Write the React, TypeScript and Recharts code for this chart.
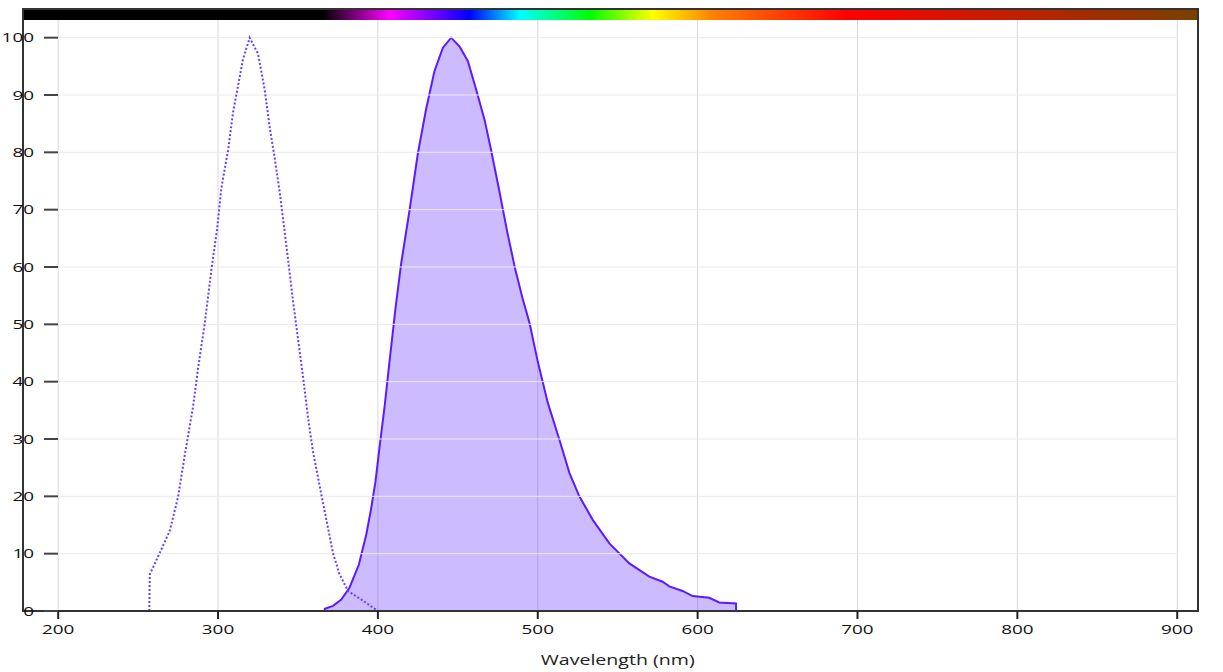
import { ComposedChart, Area, Line, XAxis, YAxis, CartesianGrid, ReferenceArea, ReferenceLine } from 'recharts';

// excitation spectrum (dotted line)
const exWavelength = [257, 257.3, 263.5, 269.8, 275, 279.2, 284.4, 287.5, 291.7, 295.8, 299.4, 302.1, 306.3, 309.4, 312.5, 315.6, 319.8, 325, 329.2, 332.3, 335.4, 338.5, 340.6, 343.8, 346.9, 350, 353.1, 356.3, 359.4, 363.5, 367.7, 371.9, 376, 381.3, 390.6, 399];
const exValue = [0, 6.4, 10.1, 14.0, 19.9, 27.2, 35.7, 42.3, 50.2, 59.4, 66.6, 73.8, 80.4, 87.0, 91.6, 96.2, 100, 97.2, 90.9, 84.4, 79.1, 73.2, 68.6, 61.3, 54.1, 47.5, 41.0, 33.7, 27.8, 21.9, 16.0, 10.1, 6.4, 3.5, 1.8, 0.2];

// emission spectrum (filled)
const emWavelength = [366.7, 366.8, 371.9, 377.1, 382.3, 388.1, 392.7, 395.8, 398.5, 401, 404.2, 407.3, 411, 414.6, 419.8, 425, 430.2, 435.4, 440.6, 445.8, 451, 456.3, 461.5, 466.7, 470.8, 476, 481, 486, 490.6, 494.8, 500, 506.3, 513.5, 519.8, 526, 534.4, 544.8, 557.3, 569.8, 578.1, 582.3, 590.6, 596.9, 607.3, 613.5, 624, 624.1];
const emValue = [0, 0.4, 0.9, 2.0, 4.1, 8.1, 13.3, 17.9, 22.6, 28.5, 35.7, 43.6, 52.8, 60.7, 69.9, 79.8, 87.6, 94.2, 98.2, 100, 98.5, 95.9, 90.9, 85.7, 80.4, 73.2, 66, 59.5, 54.4, 50.3, 43.5, 36.3, 29.9, 24.1, 20.0, 15.9, 11.8, 8.3, 6.0, 5.1, 4.3, 3.5, 2.6, 2.3, 1.5, 1.3, 0];

const xTicks = [200, 300, 400, 500, 600, 700, 800, 900];
const yTicks = [0, 10, 20, 30, 40, 50, 60, 70, 80, 90, 100];
const xDomain = [178, 913];
const yDomain = [0, 105];

// spectrum bar colours across the plot width
const spectrumStops = [
  { offset: '0%', color: '#000000' },
  { offset: '25.5%', color: '#000000' },
  { offset: '31.2%', color: '#ff00ff' },
  { offset: '38%', color: '#0000ff' },
  { offset: '42.3%', color: '#00ffff' },
  { offset: '48.3%', color: '#00ff00' },
  { offset: '53.6%', color: '#ffff00' },
  { offset: '58.7%', color: '#ff8000' },
  { offset: '70.1%', color: '#ff0000' },
  { offset: '100%', color: '#7a4100' },
];

const exData = exWavelength.map((w, i) => ({ w, v: exValue[i] }));
const emData = emWavelength.map((w, i) => ({ w, v: emValue[i] }));

const FONT = '"Open Sans", sans-serif';
const PLOT_LEFT = 23;

function YTick(props: any) {
  const { y, payload } = props;
  const label = String(payload.value);
  return (
    <g>
      <line x1={PLOT_LEFT + 21} x2={PLOT_LEFT + 35} y1={y} y2={y} stroke="#444" strokeWidth={2} />
      <text x={PLOT_LEFT + 11} y={y} dy={4.5} textAnchor="end" fontFamily={FONT} fontSize={13} fill="#111"
        textLength={label.length * 10.8} lengthAdjust="spacingAndGlyphs">{label}</text>
    </g>
  );
}

function XTick(props: any) {
  const { x, y, payload } = props;
  const label = String(payload.value);
  return (
    <text x={x} y={y + 13} textAnchor="middle" fontFamily={FONT} fontSize={13} fill="#111"
      textLength={label.length * 10.8} lengthAdjust="spacingAndGlyphs">{label}</text>
  );
}

function AxisTitle(props: any) {
  const { viewBox } = props;
  return (
    <text x={viewBox.x} y={viewBox.y + viewBox.height + 54} textAnchor="middle" fontFamily={FONT} fontSize={14} fill="#222"
      textLength={154} lengthAdjust="spacingAndGlyphs">Wavelength (nm)</text>
  );
}

export default function App() {
  return (
    <div style={{ position: 'absolute', left: 0, top: 0 }}>
      <ComposedChart width={1223} height={672} margin={{ top: 9, right: 25, bottom: 0, left: 0 }}>
        <defs>
          <linearGradient id="specGrad" x1="0" y1="0" x2="1" y2="0">
            {spectrumStops.map((s) => (
              <stop key={s.offset} offset={s.offset} stopColor={s.color} />
            ))}
          </linearGradient>
        </defs>
        <CartesianGrid horizontal={false} stroke="#d8d8d8" />
        <XAxis dataKey="w" type="number" domain={xDomain} ticks={xTicks} allowDataOverflow
          axisLine={{ stroke: '#333', strokeWidth: 2 }} tickLine={{ stroke: '#222', strokeWidth: 2 }} tickSize={8}
          tick={<XTick />} height={61} />
        <YAxis type="number" domain={yDomain} ticks={yTicks} allowDataOverflow width={23}
          axisLine={false} tickLine={false} tick={<YTick />} />
        {yTicks.filter((t) => t > 0).map((t) => (
          <ReferenceLine key={t} segment={[{ x: 200, y: t }, { x: 900, y: t }]} stroke="#eaeaea" />
        ))}
        <Area data={emData} dataKey="v" type="linear" stroke="#5a1cff" strokeWidth={2}
          fill="#5522ff" fillOpacity={0.3} isAnimationActive={false} dot={false} activeDot={false} />
        <Line data={exData} dataKey="v" type="linear" stroke="#6a3cff" strokeWidth={2}
          strokeDasharray="2 2" dot={false} activeDot={false} isAnimationActive={false} />
        <ReferenceLine x={550} stroke="none" label={<AxisTitle />} />
        <ReferenceArea x1={xDomain[0]} x2={xDomain[1]} y1={103.1} y2={yDomain[1]} fill="url(#specGrad)" fillOpacity={1} stroke="none" />
        <ReferenceArea x1={xDomain[0]} x2={xDomain[1]} y1={yDomain[0]} y2={yDomain[1]} fill="none" stroke="#333" strokeWidth={2} />
      </ComposedChart>
    </div>
  );
}
